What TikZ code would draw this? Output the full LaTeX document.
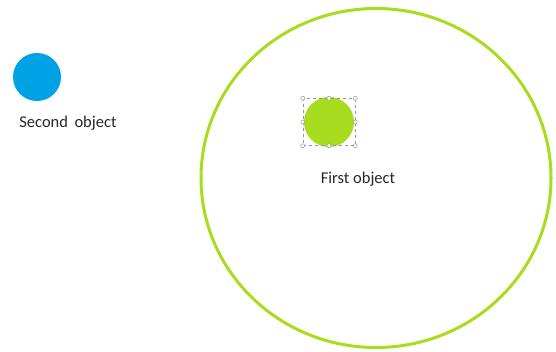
\documentclass[tikz,border=0pt]{standalone}
\usepackage{fontspec}
\setmainfont{Carlito}
\usepackage{tikz}
\usetikzlibrary{shapes.geometric, positioning, fit}
\definecolor{limegreen}{HTML}{A8DC1E}
\definecolor{skyblue}{HTML}{00A2E6}
\definecolor{selgray}{HTML}{8C96AA}
\tikzstyle{disk} = [circle, minimum size=50pt, inner sep=0pt]
\tikzstyle{handle} = [circle, draw=selgray, fill=white, minimum size=4pt, inner sep=0pt, line width=0.5pt]
\tikzstyle{label} = [font=\fontsize{16.5}{19}\selectfont, text=black!85]

\begin{document}
\begin{tikzpicture}[x=1pt, y=-1pt]
    \useasboundingbox (0,0) rectangle (556,351);
    % Big ring
    \node (ring) [ellipse, draw=limegreen, line width=3pt, minimum width=350pt, minimum height=339pt] at (376,178) {};
    
    % First object with selection frame
    \node (first) [disk, fill=limegreen] at (329,122) {};
    \node (sel) [draw=selgray, dashed, line width=0.5pt, inner sep=0pt, minimum width=52pt, minimum height=47pt] at (329,122) {};
    \foreach \a in {north west, north, north east, east, south east, south, south west, west}
        \node[handle] at (sel.\a) {};
    \node (firstlbl) [label] at (358,179) {First object};
    
    % Second object
    \node (second) [disk, fill=skyblue, minimum size=48pt] at (37,77) {};
    \node (secondlbl) [label] at (68,123) {Second\, object};
\end{tikzpicture}
\end{document}
